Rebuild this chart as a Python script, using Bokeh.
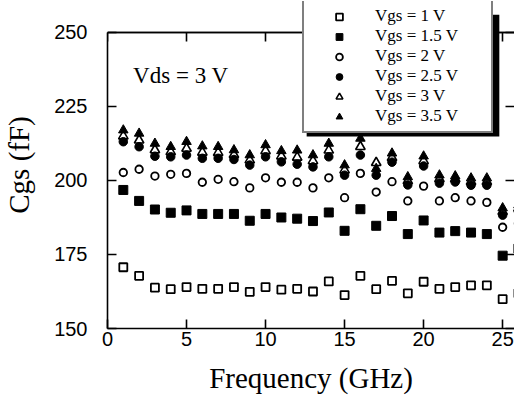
from bokeh.plotting import figure
from bokeh.models import Range1d, LinearAxis, Legend, LegendItem, Label, FixedTicker, BoxAnnotation
from bokeh.embed import file_html
from bokeh.resources import INLINE

freq = list(range(1, 27))
vgs_1 = [170.7, 167.8, 163.8, 163.3, 164.0, 163.4, 163.4, 164.0, 162.4, 164.0, 163.1, 163.4, 162.5,
         165.9, 161.3, 167.8, 163.3, 166.1, 161.9, 165.8, 163.4, 164.0, 164.6, 164.6, 159.9, 161.9]
vgs_15 = [196.8, 193.1, 190.2, 189.1, 189.9, 188.7, 188.7, 188.7, 186.4, 188.7, 187.5, 187.1, 186.3,
          189.2, 183.0, 190.3, 184.7, 188.0, 181.9, 186.5, 182.4, 182.9, 182.4, 181.9, 174.6, 177.0]
vgs_2 = [202.7, 203.8, 201.5, 202.1, 202.4, 199.4, 200.4, 199.6, 197.5, 200.9, 199.4, 199.4, 197.5,
         200.9, 194.2, 202.4, 196.1, 199.6, 193.1, 198.1, 193.1, 194.2, 193.1, 192.6, 184.2, 185.5]
vgs_25 = [213.1, 211.4, 208.2, 208.0, 208.6, 207.5, 207.5, 207.1, 205.2, 208.0, 206.3, 205.5, 204.6,
          208.0, 201.8, 208.6, 201.8, 206.2, 198.5, 204.9, 199.1, 199.5, 198.4, 198.4, 188.3, 189.5]
vgs_3 = [215.0, 213.6, 210.3, 209.7, 210.8, 209.5, 209.4, 208.7, 206.9, 210.0, 208.2, 207.8, 206.6,
         210.2, 203.5, 211.4, 206.0, 207.7, 199.9, 206.6, 200.5, 200.5, 199.6, 199.6, 189.5, 190.6]
vgs_35 = [217.0, 215.9, 212.5, 211.4, 213.1, 211.6, 211.4, 210.3, 208.6, 212.0, 210.0, 210.2, 208.6,
          212.5, 205.2, 214.2, 204.0, 209.2, 201.2, 208.2, 201.8, 201.5, 200.8, 200.8, 190.7, 191.7]

series_labels = ["Vgs = 1 V", "Vgs = 1.5 V", "Vgs = 2 V", "Vgs = 2.5 V", "Vgs = 3 V", "Vgs = 3.5 V"]
x_ticks = [0, 5, 10, 15, 20, 25]
y_ticks = [150, 175, 200, 225, 250]

SERIF = "Liberation Serif"
SANS = "Liberation Sans"
Y_TOP = 250          # top of the axes box
X_END = 25.75

p = figure(width=514, height=396, output_backend="svg", toolbar_location=None,
           x_range=Range1d(0, X_END), y_range=Range1d(150, 260.47),
           min_border_left=106, min_border_right=0, min_border_top=1, min_border_bottom=68)
p.title.visible = False
p.outline_line_color = None
p.xgrid.visible = False
p.ygrid.visible = False
p.background_fill_color = "white"
p.border_fill_color = "white"


def style_axis(ax, ticks, show_labels=True):
    ax.ticker = FixedTicker(ticks=ticks)
    ax.axis_line_color = "black"
    ax.axis_line_width = 1.6
    ax.major_tick_line_color = "black"
    ax.major_tick_line_width = 1.6
    ax.major_tick_in = 9
    ax.major_tick_out = 0
    ax.minor_tick_line_color = None
    if show_labels:
        ax.major_label_text_font = SANS
        ax.major_label_text_font_size = "20px"
        ax.major_label_text_color = "black"
    else:
        ax.major_label_overrides = {t: "" for t in ticks}
        ax.major_label_text_font_size = "1px"
        ax.major_label_standoff = 0


xa = p.xaxis[0]
style_axis(xa, x_ticks)
xa.major_label_standoff = 3
xa.axis_label = "Frequency (GHz)"
xa.axis_label_text_font = SERIF
xa.axis_label_text_font_style = "normal"
xa.axis_label_text_font_size = "29px"
xa.axis_label_text_color = "black"
xa.axis_label_standoff = 13

ya = p.yaxis[0]
style_axis(ya, y_ticks)
ya.bounds = (150, Y_TOP)
ya.major_label_standoff = 20
ya.axis_label = "Cgs (fF)"
ya.axis_label_text_font = SERIF
ya.axis_label_text_font_style = "normal"
ya.axis_label_text_font_size = "29px"
ya.axis_label_text_color = "black"
ya.axis_label_standoff = 16

right = LinearAxis()
style_axis(right, y_ticks, show_labels=False)
right.axis_line_color = None
p.add_layout(right, "right")

# top border of the axes box: an axis fixed at y = 250 with inward ticks
top = LinearAxis(fixed_location=Y_TOP)
style_axis(top, x_ticks, show_labels=False)
p.add_layout(top, "above")

r1 = p.scatter(freq, vgs_1, marker="square", size=8, fill_color="white", line_color="black", line_width=1.8)
r15 = p.scatter(freq, vgs_15, marker="square", size=9, fill_color="black", line_color="black", line_width=1)
r2 = p.scatter(freq, vgs_2, marker="circle", size=7.5, fill_color="white", line_color="black", line_width=1.8)
r3 = p.scatter(freq, vgs_3, marker="triangle", size=9.5, fill_color="white", line_color="black", line_width=1.6)
r25 = p.scatter(freq, vgs_25, marker="circle", size=8.5, fill_color="black", line_color="black", line_width=1)
r35 = p.scatter(freq, vgs_35, marker="triangle", size=9.5, fill_color="black", line_color="black", line_width=1)

# thin band along the top border (backup for the top edge line)
p.add_layout(BoxAnnotation(left=0, right=X_END, bottom=Y_TOP - 0.27, top=Y_TOP + 0.27,
                           fill_color="black", fill_alpha=1, line_color=None))

# drop shadow behind the legend box
p.add_layout(BoxAnnotation(left=12.6, right=24.79, bottom=214.86, top=256.0,
                           fill_color="black", fill_alpha=1, line_color=None))

renderers = [r1, r15, r2, r25, r3, r35]
legend = Legend(items=[LegendItem(label=t, renderers=[r]) for t, r in zip(series_labels, renderers)],
                location=(195, 195))
legend.label_text_font = SERIF
legend.label_text_font_size = "17px"
legend.label_text_color = "black"
legend.glyph_width = 60
legend.glyph_height = 17
legend.label_height = 17
legend.label_width = 111
legend.label_standoff = 6
legend.spacing = 0
legend.padding = 5
legend.margin = 0
legend.border_line_color = "black"
legend.border_line_width = 2
legend.background_fill_color = "white"
legend.background_fill_alpha = 1
p.add_layout(legend, "center")

p.add_layout(Label(x=1.62, y=235.6, text="Vds = 3 V", text_font=SERIF, text_font_size="23px",
                   text_baseline="middle", text_color="black"))

open("out.html", "w").write(file_html(p, INLINE))
